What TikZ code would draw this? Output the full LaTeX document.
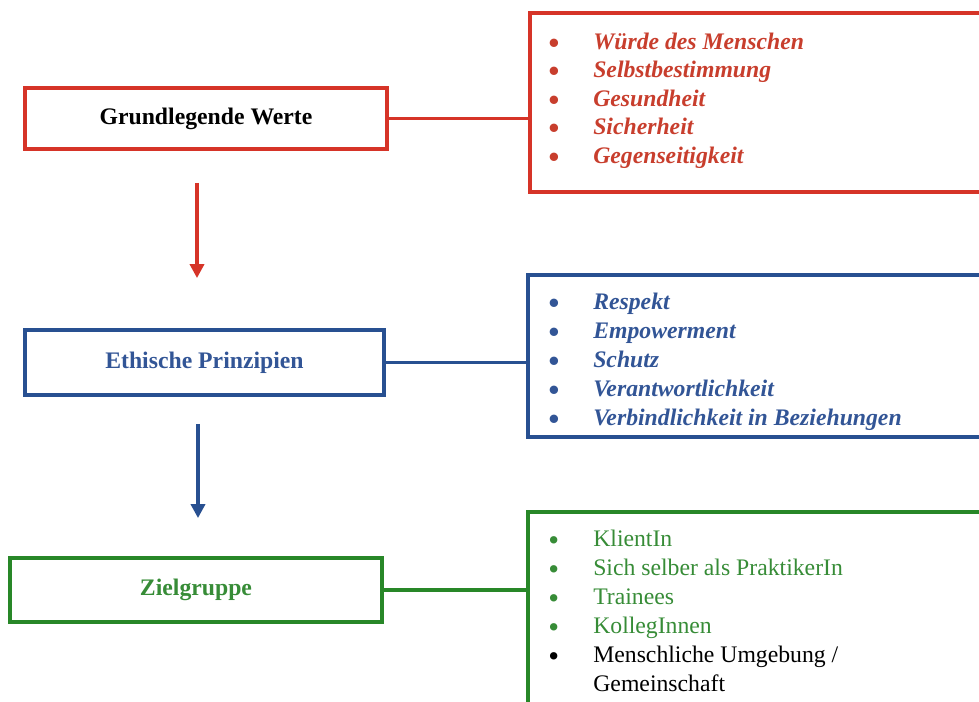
\documentclass[tikz,border=0pt]{standalone}
\usepackage{fontspec}
\setmainfont{Liberation Serif}
\usetikzlibrary{arrows.meta,positioning}

\definecolor{wertered}{RGB}{214,52,40}
\definecolor{werttext}{RGB}{200,62,45}
\definecolor{prinzblue}{RGB}{40,80,145}
\definecolor{prinztext}{RGB}{50,85,150}
\definecolor{zielgreen}{RGB}{40,135,40}
\definecolor{zieltext}{RGB}{55,140,55}

\newcommand{\itembul}{\makebox[25pt][l]{\hspace{-0.5pt}\smash{\raisebox{-2.5pt}{\scalebox{1.3}{\textbullet}}}}}

\begin{document}
\begin{tikzpicture}[
  x=0.02cm, y=-0.02cm,
  font=\fontsize{13.5}{16.5}\selectfont,
  titlebox/.style={draw, line width=2.2pt, align=center, inner sep=0pt, font=\fontsize{13.5}{16.5}\selectfont\bfseries},
  listbox/.style={draw, line width=2.2pt, inner sep=0pt},
  listitem/.style={anchor=base west, inner sep=0pt},
  link/.style={line width=2.1pt},
  arrow/.style={-{Triangle[length=8pt, width=8pt]}, line width=2pt}
]
\useasboundingbox (0,0) rectangle (979,701);
\clip (0,0) rectangle (979,701);

% Grundlegende Werte
\node[titlebox, wertered, text=black, minimum width=7.24cm, minimum height=1.22cm] (grund) at (206,118.5) {Grundlegende Werte};
\node[listbox, wertered, minimum width=9.6cm, minimum height=3.58cm] (wertebox) at (770,102.5) {};
\draw[link, wertered] (grund.east) -- (grund.east -| wertebox.west);
\foreach \txt [count=\i] in {Würde des Menschen, Selbstbestimmung, Gesundheit, Sicherheit, Gegenseitigkeit}
  \node[listitem, werttext, font=\fontsize{13.5}{16.5}\selectfont\bfseries\itshape] (werte\i) at (549,{49+28.5*(\i-1)}) {\itembul\txt};

% Ethische Prinzipien
\node[titlebox, prinzblue, text=prinztext, minimum width=7.18cm, minimum height=1.3cm] (ethik) at (204.5,362.5) {Ethische Prinzipien};
\node[listbox, prinzblue, minimum width=9.64cm, minimum height=3.24cm] (prinzbox) at (769,356) {};
\draw[link, prinzblue] (ethik.east) -- (ethik.east -| prinzbox.west);
\foreach \txt [count=\i] in {Respekt, Empowerment, Schutz, Verantwortlichkeit, Verbindlichkeit in Beziehungen}
  \node[listitem, prinztext, font=\fontsize{13.5}{16.5}\selectfont\bfseries\itshape] (prinz\i) at (549,{309+29*(\i-1)}) {\itembul\txt};

% Zielgruppe
\node[titlebox, zielgreen, text=zieltext, minimum width=7.44cm, minimum height=1.28cm] (ziel) at (196,590) {Zielgruppe};
\node[listbox, zielgreen, minimum width=9.64cm, minimum height=4.56cm] (gruppebox) at (769,626) {};
\draw[link, zielgreen] (ziel.east) -- (ziel.east -| gruppebox.west);
\foreach \txt [count=\i] in {KlientIn, Sich selber als PraktikerIn, Trainees, KollegInnen}
  \node[listitem, zieltext] (gruppe\i) at (549,{546+29*(\i-1)}) {\itembul\txt};
\node[listitem, black] (gruppe5) at (549,662) {\itembul Menschliche Umgebung /};
\node[listitem, black] (gruppe6) at (593,691) {Gemeinschaft};

% arrows between levels
\draw[arrow, wertered, shorten <=0.64cm, shorten >=1cm] ([xshift=-0.18cm]grund.south) -- ([xshift=-0.18cm]grund.south |- ethik.north);
\draw[arrow, prinzblue, shorten <=0.54cm, shorten >=0.76cm] ([xshift=-0.13cm]ethik.south) -- ([xshift=-0.13cm]ethik.south |- ziel.north);

\end{tikzpicture}
\end{document}
